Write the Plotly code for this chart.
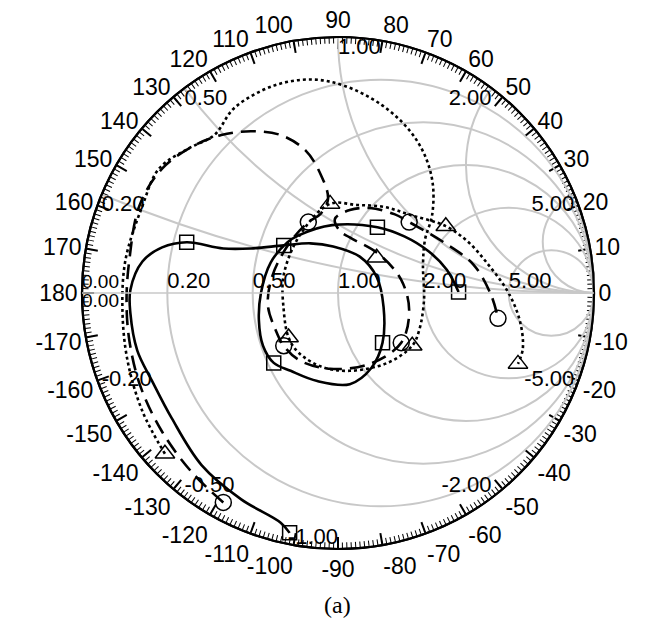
import numpy as np
import plotly.graph_objects as go

# ---- S11 data (reflection coefficient, real / imaginary parts) ----
solid_re = [-0.189, -0.224, -0.378, -0.533, -0.649, -0.726, -0.784, -0.811, -0.811, -0.764, -0.687,
            -0.591, -0.448, -0.340, -0.212, -0.108, -0.019, 0.085, 0.151, 0.178, 0.174, 0.131, 0.046,
            -0.081, -0.185, -0.251, -0.293, -0.309, -0.301, -0.263, -0.197, -0.154, -0.023, 0.154,
            0.259, 0.355, 0.425, 0.471]
solid_im = [-0.937, -0.897, -0.806, -0.672, -0.490, -0.344, -0.225, -0.079, 0.012, 0.123, 0.178,
            0.198, 0.174, 0.174, 0.186, 0.194, 0.182, 0.142, 0.063, -0.055, -0.194, -0.292, -0.356,
            -0.344, -0.304, -0.273, -0.206, -0.107, 0.000, 0.119, 0.198, 0.225, 0.265, 0.257,
            0.221, 0.162, 0.091, 0.004]
solid_mk_re = [-0.189, -0.591, -0.212, 0.174, -0.251, 0.154, 0.471]
solid_mk_im = [-0.937, 0.198, 0.186, -0.194, -0.273, 0.257, 0.004]

dash_re = [-0.448, -0.571, -0.687, -0.772, -0.815, -0.826, -0.815, -0.776, -0.687, -0.560, -0.456,
           -0.340, -0.224, -0.127, -0.069, -0.039, -0.069, -0.116, -0.193, -0.255, -0.274, -0.243,
           -0.212, -0.147, -0.031, 0.124, 0.247, 0.278, 0.247, 0.162, 0.046, 0.008, -0.012, 0.046,
           0.124, 0.220, 0.278, 0.413, 0.529, 0.598, 0.625]
dash_im = [-0.818, -0.700, -0.542, -0.364, -0.186, -0.028, 0.130, 0.340, 0.486, 0.577, 0.617,
           0.632, 0.617, 0.557, 0.466, 0.368, 0.308, 0.277, 0.190, 0.071, -0.047, -0.146,
           -0.206, -0.265, -0.296, -0.277, -0.194, -0.067, 0.051, 0.150, 0.217, 0.241, 0.289, 0.324,
           0.332, 0.308, 0.277, 0.198, 0.111, -0.008, -0.099]
dash_mk_re = [-0.448, -0.116, -0.212, 0.247, 0.278, 0.625]
dash_mk_im = [-0.818, 0.277, -0.206, -0.194, 0.277, -0.099]

dot_re = [-0.676, -0.764, -0.822, -0.842, -0.830, -0.764, -0.699, -0.583, -0.483, -0.405, -0.251,
          -0.104, 0.023, 0.170, 0.282, 0.344, 0.371, 0.367, 0.340, 0.332, 0.336, 0.317, 0.290,
          0.193, 0.046, -0.062, -0.154, -0.193, -0.212, -0.212, -0.147, -0.031, 0.073, 0.181,
          0.286, 0.421, 0.510, 0.587, 0.664, 0.710, 0.722, 0.703]
dot_im = [-0.628, -0.462, -0.265, -0.067, 0.130, 0.340, 0.486, 0.565, 0.617, 0.723, 0.810,
          0.834, 0.810, 0.735, 0.632, 0.526, 0.419, 0.300, 0.209, 0.111, -0.028, -0.146, -0.206,
          -0.273, -0.304, -0.289, -0.233, -0.174, -0.067, 0.071, 0.229, 0.348, 0.344, 0.336,
          0.304, 0.261, 0.198, 0.111, 0.004, -0.107, -0.217, -0.277]
dot_mk_re = [-0.676, 0.290, -0.193, -0.031, 0.421, 0.703, 0.151]
dot_mk_im = [-0.628, -0.206, -0.174, 0.348, 0.261, -0.277, 0.138]

# ---- axis labels ----
grid_vals = [0.2, 0.5, 1, 2, 5]
real_labels = ["0.00", "0.20", "0.50", "1.00", "2.00", "5.00"]
real_label_vals = [0, 0.2, 0.5, 1, 2, 5]
imag_label_vals = [0, 0.2, 0.5, 1, 2, 5, -0.2, -0.5, -1, -2, -5]
imag_labels = ["0.00", "0.20", "0.50", "1.00", "2.00", "5.00",
               "-0.20", "-0.50", "-1.00", "-2.00", "-5.00"]
imag_label_pos = ["bottom right", "bottom right", "bottom right", "bottom right", "bottom left",
                  "bottom left", "top right", "top right", "top left", "top left", "top left"]
angle_vals = list(range(0, 360, 10))
angle_text = [str(a) if a <= 180 else str(a - 360) for a in angle_vals]
caption = "(a)"

FONT = "Liberation Sans, Arial, sans-serif"


def to_z(re, im):
    g = np.array(re) + 1j * np.array(im)
    z = (1 + g) / (1 - g)
    return z.real, z.imag


fig = go.Figure()

series = [
    (solid_re, solid_im, solid_mk_re, solid_mk_im, "solid", "square-open", 14),
    (dash_re, dash_im, dash_mk_re, dash_mk_im, "15px,8px", "circle-open", 16),
    (dot_re, dot_im, dot_mk_re, dot_mk_im, "3px,3px", "triangle-up-open", 17),
]
for re_, im_, mre, mim, dash, sym, msize in series:
    zr, zi = to_z(re_, im_)
    fig.add_trace(go.Scattersmith(real=zr, imag=zi, mode="lines",
                                  line=dict(color="black", width=2.6, dash=dash, shape="spline"),
                                  showlegend=False, hoverinfo="skip"))
    mr, mi = to_z(mre, mim)
    fig.add_trace(go.Scattersmith(real=mr, imag=mi, mode="markers",
                                  marker=dict(symbol=sym, size=msize, color="black",
                                              line=dict(width=1.5, color="black")),
                                  showlegend=False, hoverinfo="skip"))

# axis label text (the two "0.00" labels at the short-circuit point slightly smaller)
real_sizes = [19] + [22] * (len(real_labels) - 1)
imag_sizes = [19] + [22] * (len(imag_labels) - 1)
fig.add_trace(go.Scattersmith(real=real_label_vals, imag=[0] * len(real_label_vals), mode="text",
                              text=real_labels, textposition="top right",
                              textfont=dict(family=FONT, size=real_sizes, color="black"),
                              showlegend=False, hoverinfo="skip"))
fig.add_trace(go.Scattersmith(real=[0] * len(imag_label_vals), imag=imag_label_vals, mode="text",
                              text=imag_labels, textposition=imag_label_pos,
                              textfont=dict(family=FONT, size=imag_sizes, color="black"),
                              showlegend=False, hoverinfo="skip"))

W, H = 647, 634
cx, cy, half = 330, 285, 256          # chart centre (px from top-left) and half-size of domain
lab = 4                               # extra radius for the angle-label ring


def dom(extra=0):
    return dict(x=[(cx - half - extra) / W, (cx + half + extra) / W],
                y=[(H - (cy + half + extra)) / H, (H - (cy - half - extra)) / H])


fig.update_layout(
    width=W, height=H,
    margin=dict(l=0, r=0, t=0, b=0),
    paper_bgcolor="white",
    plot_bgcolor="white",
    smith=dict(
        domain=dom(),
        bgcolor="rgba(0,0,0,0)",
        realaxis=dict(tickvals=grid_vals, showticklabels=False, ticks="",
                      gridcolor="#c8c8c8", gridwidth=1.6, linecolor="#c8c8c8", linewidth=1.6,
                      showline=True),
        imaginaryaxis=dict(tickvals=grid_vals, showticklabels=False, ticks="",
                           gridcolor="#c8c8c8", gridwidth=1.6, linecolor="black", linewidth=2.2,
                           showline=True),
    ),
    # major (10 deg) tick marks
    polar=dict(
        domain=dom(),
        bgcolor="rgba(0,0,0,0)",
        radialaxis=dict(visible=False),
        angularaxis=dict(tickmode="array", tickvals=angle_vals, ticktext=[""] * len(angle_vals),
                         ticks="inside", ticklen=11, tickwidth=1.8, tickcolor="black",
                         showgrid=False, showline=True, linecolor="black", linewidth=2.2),
    ),
    # minor (1 deg) tick marks
    polar2=dict(
        domain=dom(),
        bgcolor="rgba(0,0,0,0)",
        radialaxis=dict(visible=False),
        angularaxis=dict(tickmode="linear", tick0=0, dtick=1,
                         ticks="inside", ticklen=6, tickwidth=1.4, tickcolor="black",
                         showgrid=False, showline=False, showticklabels=False),
    ),
    # angle labels on a slightly larger ring
    polar3=dict(
        domain=dom(lab),
        bgcolor="rgba(0,0,0,0)",
        radialaxis=dict(visible=False),
        angularaxis=dict(tickmode="array", tickvals=angle_vals, ticktext=angle_text,
                         ticks="", showgrid=False, showline=False,
                         tickfont=dict(family=FONT, size=23, color="black")),
    ),
    annotations=[dict(text=caption, x=330 / W, y=1 - 597 / H, xref="paper", yref="paper",
                      xanchor="center", yanchor="middle", showarrow=False,
                      font=dict(family="Liberation Serif, Times New Roman, serif",
                                size=24, color="black"))],
)

# empty polar traces so the angular scales are drawn
for sp in ["polar", "polar2", "polar3"]:
    fig.add_trace(go.Scatterpolar(r=[], theta=[], subplot=sp, showlegend=False))

fig.write_html("out.html")
